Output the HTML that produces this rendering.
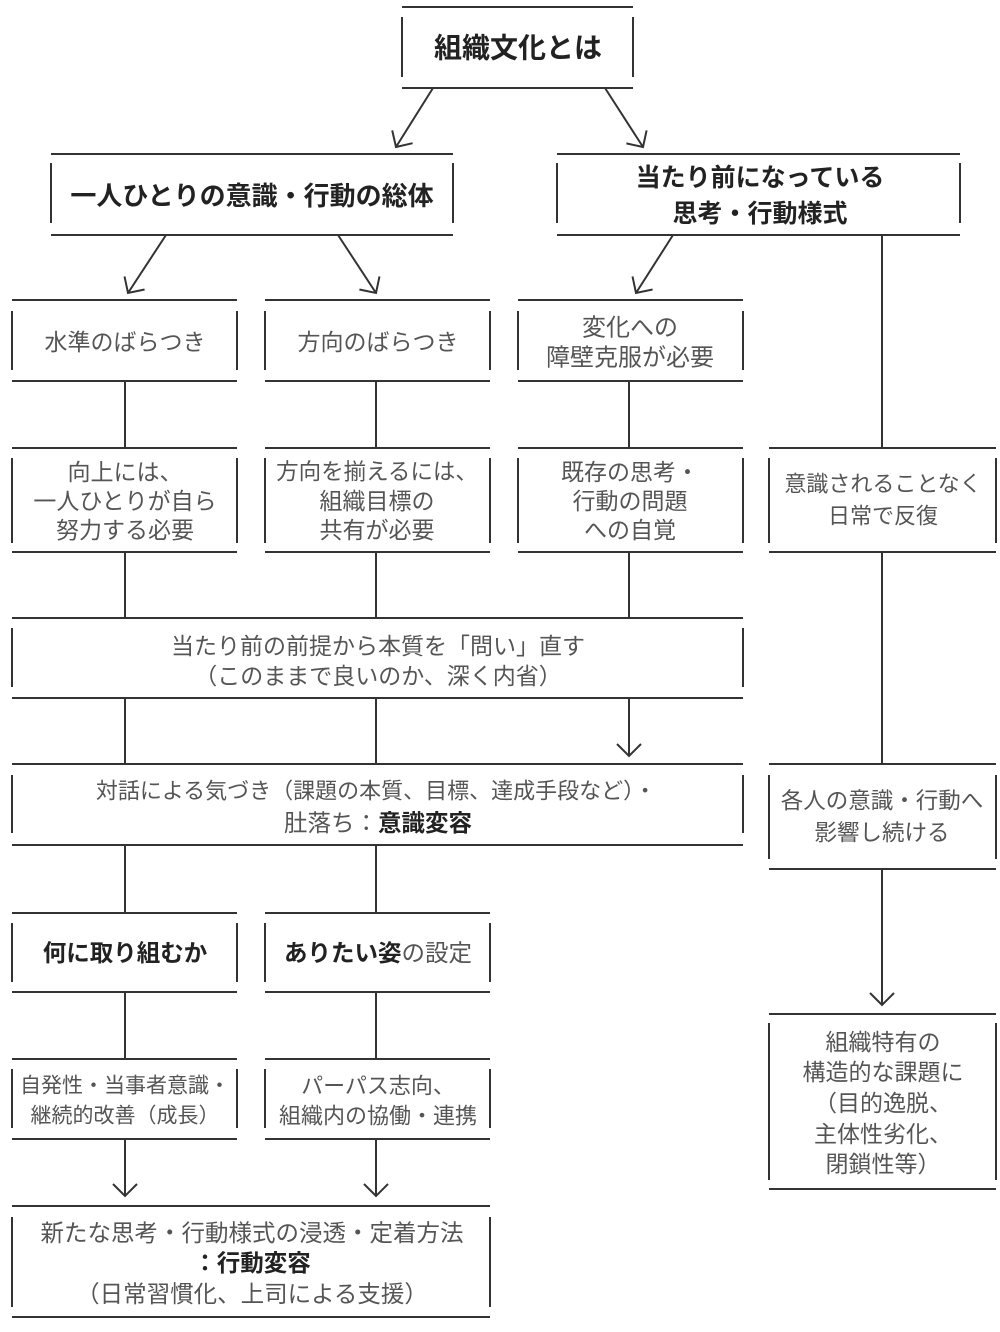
<!DOCTYPE html>
<html><head><meta charset="utf-8"><style>
html,body{margin:0;padding:0;background:#fff;}
svg{display:block;}
text{font-family:"Liberation Sans","Noto Sans CJK JP",sans-serif;fill:#555;dominant-baseline:central;text-anchor:middle;}
.b{font-weight:700;fill:#222;}
</style></head><body>
<svg width="1000" height="1332" viewBox="0 0 1000 1332" xmlns="http://www.w3.org/2000/svg">
<g stroke="#333" stroke-width="2" fill="none" stroke-linecap="butt">
<!-- boxes: top, bottom, left, right -->
<path d="M402 7H633M402 88H633M402 17V77M633 17V77"/>
<path d="M51 154H453M51 235H453M51 163V223M453 163V223"/>
<path d="M557 154H960M557 235H960M557 163V223M960 163V223"/>
<path d="M12 300H237M12 381H237M12 311V370M237 311V370"/>
<path d="M265 300H490M265 381H490M265 311V370M490 311V370"/>
<path d="M518 300H743M518 381H743M518 311V370M743 311V370"/>
<path d="M12 448H237M12 552H237M12 458V543M237 458V543"/>
<path d="M265 448H490M265 552H490M265 458V543M490 458V543"/>
<path d="M518 448H743M518 552H743M518 458V543M743 458V543"/>
<path d="M769 448H996M769 552H996M769 458V543M996 458V543"/>
<path d="M12 618H743M12 698H743M12 628V687M743 628V687"/>
<path d="M12 764H743M12 845H743M12 775V833M743 775V833"/>
<path d="M769 764H996M769 869H996M769 775V859M996 775V859"/>
<path d="M12 913H237M12 992H237M12 923V982M237 923V982"/>
<path d="M265 913H490M265 992H490M265 923V982M490 923V982"/>
<path d="M12 1059H237M12 1139H237M12 1069V1128M237 1069V1128"/>
<path d="M265 1059H490M265 1139H490M265 1069V1128M490 1069V1128"/>
<path d="M12 1206H490M12 1317H490M12 1217V1307M490 1217V1307"/>
<path d="M769 1014H996M769 1189H996M769 1023V1180M996 1023V1180"/>
<!-- diagonal arrows -->
<path d="M433 88L396 147M412.6 143.2L396 147L392.2 130.4"/>
<path d="M605 88L643 147M646.6 130.4L643 147L626.4 143.4"/>
<path d="M166 235L128 293M144.6 289.5L128 293L124.5 276.4"/>
<path d="M338 235L376 293M379.5 276.4L376 293L359.4 289.5"/>
<path d="M673 235L636 293M652.6 289.5L636 293L632.5 276.4"/>
<!-- vertical connectors -->
<path d="M882 235V448"/>
<path d="M125 381V448M376 381V448M629 381V448"/>
<path d="M125 552V618M376 552V618M629 552V618"/>
<path d="M125 698V764M376 698V764"/>
<path d="M629 698V756M617 744L629 756L641 744"/>
<path d="M882 552V764"/>
<path d="M882 869V1005M870 993L882 1005L894 993"/>
<path d="M125 845V913M376 845V913"/>
<path d="M125 992V1059M376 992V1059"/>
<path d="M125 1139V1196M113 1184L125 1196L137 1184"/>
<path d="M376 1139V1196M364 1184L376 1196L388 1184"/>
</g>

<text class="b" x="518" y="48" font-size="28">組織文化とは</text>
<text class="b" x="252" y="196" font-size="26">一人ひとりの意識・行動の総体</text>
<text class="b" x="760" y="178" font-size="25">当たり前になっている</text>
<text class="b" x="760" y="214" font-size="25">思考・行動様式</text>

<text x="125" y="342" font-size="23">水準のばらつき</text>
<text x="378" y="342" font-size="23">方向のばらつき</text>
<text x="630" y="328" font-size="24">変化への</text>
<text x="630" y="358" font-size="24">障壁克服が必要</text>

<text x="125" y="472" font-size="23">向上には、</text>
<text x="125" y="501" font-size="23">一人ひとりが自ら</text>
<text x="125" y="530" font-size="23">努力する必要</text>

<text x="377" y="472" font-size="22.5">方向を揃えるには、</text>
<text x="377" y="501" font-size="23">組織目標の</text>
<text x="377" y="530" font-size="23">共有が必要</text>

<text x="630" y="472" font-size="23">既存の思考・</text>
<text x="630" y="501" font-size="23">行動の問題</text>
<text x="630" y="530" font-size="23">への自覚</text>

<text x="883" y="484" font-size="22">意識されることなく</text>
<text x="883" y="516" font-size="22">日常で反復</text>

<text x="378" y="646" font-size="23">当たり前の前提から本質を「問い」直す</text>
<text x="378" y="676" font-size="23">（このままで良いのか、深く内省）</text>

<text x="376" y="791" font-size="22">対話による気づき（課題の本質、目標、達成手段など）・</text>
<text x="378" y="823" font-size="23.5">肚落ち：<tspan class="b">意識変容</tspan></text>

<text x="882" y="801" font-size="22.5">各人の意識・行動へ</text>
<text x="882" y="833" font-size="22.5">影響し続ける</text>

<text class="b" x="125" y="953" font-size="23.5">何に取り組むか</text>
<text x="378" y="953" font-size="23.5"><tspan class="b">ありたい姿</tspan>の設定</text>

<text x="125" y="1086" font-size="21">自発性・当事者意識・</text>
<text x="125" y="1116" font-size="21">継続的改善（成長）</text>

<text x="378" y="1086" font-size="22">パーパス志向、</text>
<text x="378" y="1116" font-size="22">組織内の協働・連携</text>

<text x="252" y="1233" font-size="23.5">新たな思考・行動様式の浸透・定着方法</text>
<text x="252" y="1263" font-size="23.5"><tspan class="b">：行動変容</tspan></text>
<text x="252" y="1294" font-size="23.5">（日常習慣化、上司による支援）</text>

<text x="883" y="1042" font-size="23">組織特有の</text>
<text x="883" y="1072" font-size="23">構造的な課題に</text>
<text x="883" y="1103" font-size="23">（目的逸脱、</text>
<text x="883" y="1134" font-size="23">主体性劣化、</text>
<text x="883" y="1164" font-size="23">閉鎖性等）</text>
</svg>
</body></html>
